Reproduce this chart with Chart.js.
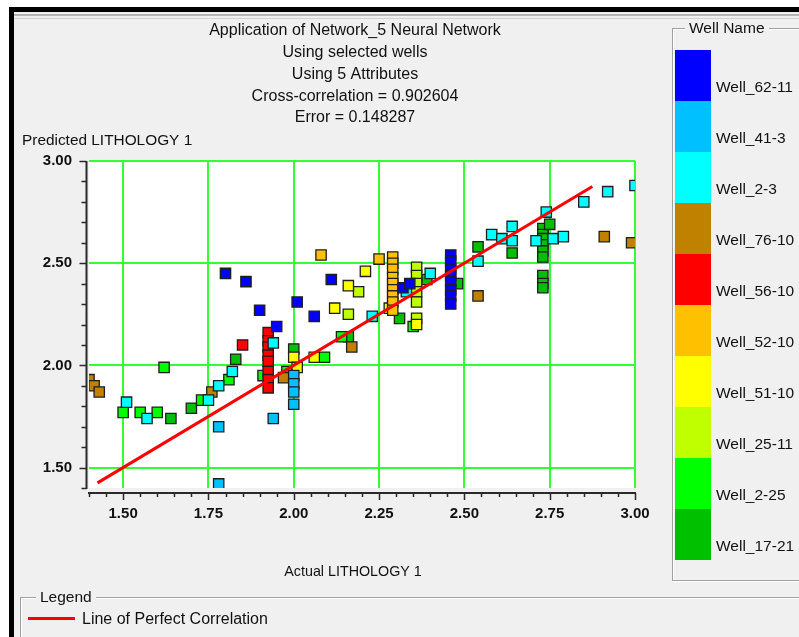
<!DOCTYPE html>
<html>
<head>
<meta charset="utf-8">
<script src="https://cdn.jsdelivr.net/npm/chart.js@4.4.1/dist/chart.umd.min.js"></script>
<style>
html,body{margin:0;padding:0;background:#fff;}
#wrap{position:relative;width:799px;height:637px;overflow:hidden;background:#fff;font-family:"Liberation Sans",Arial,sans-serif;color:#111;}
#frame{position:absolute;left:9px;top:7px;right:0;bottom:0;background:#000;}
#panel{position:absolute;left:14px;top:12px;right:0;bottom:0;background:#f0f0f0;}
#panelLine1{position:absolute;left:14px;top:14px;right:0;height:2px;background:#b4b4b4;}
#panelLine2{position:absolute;left:14px;top:18px;right:0;height:1px;background:#d0d0d0;}
#c{position:absolute;left:0;top:0;}
.gb{position:absolute;border:1px solid #a0a0a0;box-shadow:1px 1px 0 #fff inset, 1px 1px 0 #fff;}
.gbt{position:absolute;background:#f0f0f0;padding:0 4px;font-size:15.5px;line-height:16px;color:#111;}
.sw{position:absolute;left:675px;width:36px;height:51px;}
.wl{position:absolute;left:716px;font-size:15.5px;line-height:16px;color:#111;white-space:nowrap;}
</style>
</head>
<body>
<div id="wrap">
  <div id="frame"></div>
  <div id="panel"></div>
  <div id="panelLine1"></div>
  <div id="panelLine2"></div>
  <canvas id="c" width="799" height="637"></canvas>
  <div class="gb" style="left:672px;top:28px;width:140px;height:551px;"></div>
  <div class="gbt" style="left:685px;top:20px;">Well Name</div>
  <div class="gb" style="left:20px;top:597px;width:800px;height:60px;"></div>
  <div class="gbt" style="left:36px;top:589px;">Legend</div>
  <div style="position:absolute;left:28px;top:617px;width:47px;height:3px;background:#f00;"></div>
  <div class="wl" style="left:82px;top:611px;font-size:16px;">Line of Perfect Correlation</div>
  <div id="wellLegend"></div>
</div>
<script>
// ---------- data ----------
const wellNames = ["Well_62-11","Well_41-3","Well_2-3","Well_76-10","Well_56-10","Well_52-10","Well_51-10","Well_25-11","Well_2-25","Well_17-21"];
const wellColors = ["#0000ff","#00c0ff","#00ffff","#c08000","#ff0000","#ffc000","#ffff00","#c0ff00","#00ff00","#00c000"];

const w62_11X = [1.80,1.86,1.90,1.95,2.01,2.06,2.11,2.32,2.34,2.46,2.46,2.46,2.46,2.46,2.46,2.46,2.46];
const w62_11Y = [2.45,2.41,2.27,2.19,2.31,2.24,2.42,2.38,2.40,2.54,2.51,2.47,2.44,2.41,2.37,2.34,2.30];

const w41_3X = [1.78,1.78,1.94,2.00,2.00,2.00,2.00];
const w41_3Y = [1.70,1.42,1.74,1.95,1.91,1.87,1.81];

const w2_3X = [1.51,1.57,1.75,1.78,1.82,1.94,2.23,2.33,2.40,2.54,2.58,2.61,2.64,2.64,2.71,2.74,2.76,2.79,2.85,2.92,3.00];
const w2_3Y = [1.82,1.74,1.83,1.90,1.97,2.11,2.24,2.36,2.45,2.51,2.64,2.62,2.61,2.68,2.61,2.75,2.62,2.63,2.80,2.85,2.88];

const w76_10X = [1.40,1.415,1.43,1.76,1.97,2.17,2.54,2.91,2.99];
const w76_10Y = [1.93,1.90,1.87,1.87,1.94,2.09,2.34,2.63,2.60];

const w56_10X = [1.85,1.925,1.925,1.925,1.925,1.925,1.925,1.925,1.925];
const w56_10Y = [2.10,2.16,2.12,2.09,2.05,2.02,1.97,1.93,1.89];

const w52_10X = [2.08,2.25,2.29,2.29,2.29,2.29,2.29,2.29,2.29,2.29,2.29];
const w52_10Y = [2.54,2.52,2.53,2.50,2.47,2.43,2.40,2.37,2.34,2.31,2.27];

const w51_10X = [2.21,2.16,2.12,2.00,2.01,2.06,2.28,2.36];
const w51_10Y = [2.46,2.39,2.28,2.04,1.99,2.04,2.28,2.20];

const w25_11X = [2.19,2.16,2.36,2.36,2.36,2.36,2.36,2.36];
const w25_11Y = [2.36,2.25,2.48,2.44,2.40,2.36,2.31,2.23];

const w2_25X = [1.50,1.55,1.60,1.62,1.73,1.81,1.91,1.98,2.09,2.35,2.14];
const w2_25Y = [1.77,1.77,1.77,1.99,1.83,1.93,1.95,1.97,2.04,2.19,2.14];

const w17_21X = [1.64,1.70,1.83,2.00,2.16,2.31,2.39,2.48,2.54,2.64,2.73,2.73,2.73,2.73,2.73,2.73,2.73,2.73,2.73,2.75];
const w17_21Y = [1.74,1.79,2.03,2.08,2.14,2.23,2.42,2.40,2.58,2.55,2.67,2.64,2.62,2.59,2.56,2.53,2.44,2.40,2.38,2.69];

const perfectLineX = [1.425, 2.875];
const perfectLineY = [1.425, 2.875];

const xTickValues = [1.50,1.75,2.00,2.25,2.50,2.75,3.00];
const xTickLabels = ["1.50","1.75","2.00","2.25","2.50","2.75","3.00"];
const yTickValues = [1.50,2.00,2.50,3.00];
const yTickLabels = ["1.50","2.00","2.50","3.00"];
const xMin = 1.40, xMax = 3.00, yMin = 1.40, yMax = 3.00;
const xMinorStep = 0.05, yMinorStep = 0.1;

const titleLines = ["Application of Network_5 Neural Network","Using selected wells","Using 5 Attributes","Cross-correlation = 0.902604","Error = 0.148287"];
const yAxisTitle = "Predicted LITHOLOGY 1";
const xAxisTitle = "Actual LITHOLOGY 1";

// ---------- build ----------
const wellX = [w62_11X,w41_3X,w2_3X,w76_10X,w56_10X,w52_10X,w51_10X,w25_11X,w2_25X,w17_21X];
const wellY = [w62_11Y,w41_3Y,w2_3Y,w76_10Y,w56_10Y,w52_10Y,w51_10Y,w25_11Y,w2_25Y,w17_21Y];
const pair = (xs, ys) => xs.map((x, i) => ({x, y: ys[i]}));

const FONT = '"Liberation Sans", Arial, sans-serif';

const datasets = [{
  type: 'line', label: 'Line of Perfect Correlation',
  data: pair(perfectLineX, perfectLineY),
  borderColor: '#ff0000', borderWidth: 3, pointRadius: 0, showLine: true, order: 0, fill: false
}];
wellNames.forEach((n, i) => {
  datasets.push({
    label: n, data: pair(wellX[i], wellY[i]),
    backgroundColor: wellColors[i], borderColor: '#1e1e1e', borderWidth: 1.3,
    pointStyle: 'rect', pointRadius: 7.3, order: 1
  });
});

const decor = {
  id: 'decor',
  beforeDraw(chart) {
    const {ctx, chartArea: a} = chart;
    ctx.save();
    ctx.fillStyle = '#ffffff';
    ctx.fillRect(a.left, a.top, a.right - a.left, a.bottom - a.top);
    ctx.restore();
  },
  afterDraw(chart) {
    const {ctx, chartArea: a, scales} = chart;
    const xs = scales.x, ys = scales.y;
    ctx.save();
    ctx.strokeStyle = '#2a2a2a';
    // x axis
    const axY = a.bottom + 5;
    ctx.lineWidth = 2;
    ctx.beginPath(); ctx.moveTo(a.left - 1, axY); ctx.lineTo(a.right + 1, axY); ctx.stroke();
    ctx.lineWidth = 1.5;
    for (let k = Math.round(xMin / xMinorStep); k <= Math.round(xMax / xMinorStep); k++) {
      const v = k * xMinorStep;
      const major = xTickValues.some(t => Math.abs(t - v) < 1e-6);
      const px = Math.round(xs.getPixelForValue(v)) + 0.5;
      ctx.beginPath(); ctx.moveTo(px, axY); ctx.lineTo(px, axY + (major ? 7 : 4)); ctx.stroke();
    }
    // y axis
    const axX = a.left - 2.5;
    ctx.lineWidth = 2;
    ctx.beginPath(); ctx.moveTo(axX, a.top); ctx.lineTo(axX, a.bottom + 1); ctx.stroke();
    ctx.lineWidth = 1.5;
    for (let k = Math.round(yMin / yMinorStep); k <= Math.round(yMax / yMinorStep); k++) {
      const v = k * yMinorStep;
      const major = yTickValues.some(t => Math.abs(t - v) < 1e-6);
      const py = Math.round(ys.getPixelForValue(v)) + 0.5;
      ctx.beginPath(); ctx.moveTo(axX, py); ctx.lineTo(axX - (major ? 7 : 5), py); ctx.stroke();
    }
    // titles
    ctx.fillStyle = '#111';
    ctx.font = '16px ' + FONT;
    ctx.textAlign = 'center'; ctx.textBaseline = 'middle';
    titleLines.forEach((t, i) => ctx.fillText(t, 355, 31 + i * 21.7));
    ctx.font = '14.3px ' + FONT;
    ctx.fillText(xAxisTitle, 353, 572);
    ctx.textAlign = 'left';
    ctx.font = '15.4px ' + FONT;
    ctx.fillText(yAxisTitle, 22, 141);
    ctx.restore();
  }
};

new Chart(document.getElementById('c'), {
  type: 'scatter',
  data: {datasets},
  options: {
    responsive: false, animation: false, devicePixelRatio: 1,
    layout: {padding: {left: 0, top: 161, right: 164, bottom: 89}},
    plugins: {legend: {display: false}, tooltip: {enabled: false}, title: {display: false}},
    scales: {
      x: {
        type: 'linear', min: xMin, max: xMax,
        afterBuildTicks: s => { s.ticks = xTickValues.map(v => ({value: v})); },
        afterFit: s => { s.height = 60; },
        grid: {color: '#33ff33', lineWidth: 2, drawTicks: false},
        border: {display: false},
        ticks: {autoSkip: false, maxRotation: 0, padding: 17, color: '#111',
          font: {family: FONT, size: 15, weight: 'bold'},
          callback: (v, i) => xTickLabels[i]}
      },
      y: {
        type: 'linear', min: yMin, max: yMax,
        afterBuildTicks: s => { s.ticks = yTickValues.map(v => ({value: v})); },
        afterFit: s => { s.width = 89; },
        grid: {color: '#33ff33', lineWidth: 2, drawTicks: false},
        border: {display: false},
        ticks: {autoSkip: false, padding: 17, color: '#111',
          font: {family: FONT, size: 15, weight: 'bold'},
          callback: (v, i) => yTickLabels[i]}
      }
    }
  },
  plugins: [decor]
});

// Well legend (right)
const wl = document.getElementById('wellLegend');
wellNames.forEach((n, i) => {
  const top = 50 + i * 51;
  const sw = document.createElement('div');
  sw.className = 'sw'; sw.style.top = top + 'px'; sw.style.background = wellColors[i];
  wl.appendChild(sw);
  const lb = document.createElement('div');
  lb.className = 'wl'; lb.style.top = (top + 29) + 'px'; lb.textContent = n;
  wl.appendChild(lb);
});
</script>
</body>
</html>
